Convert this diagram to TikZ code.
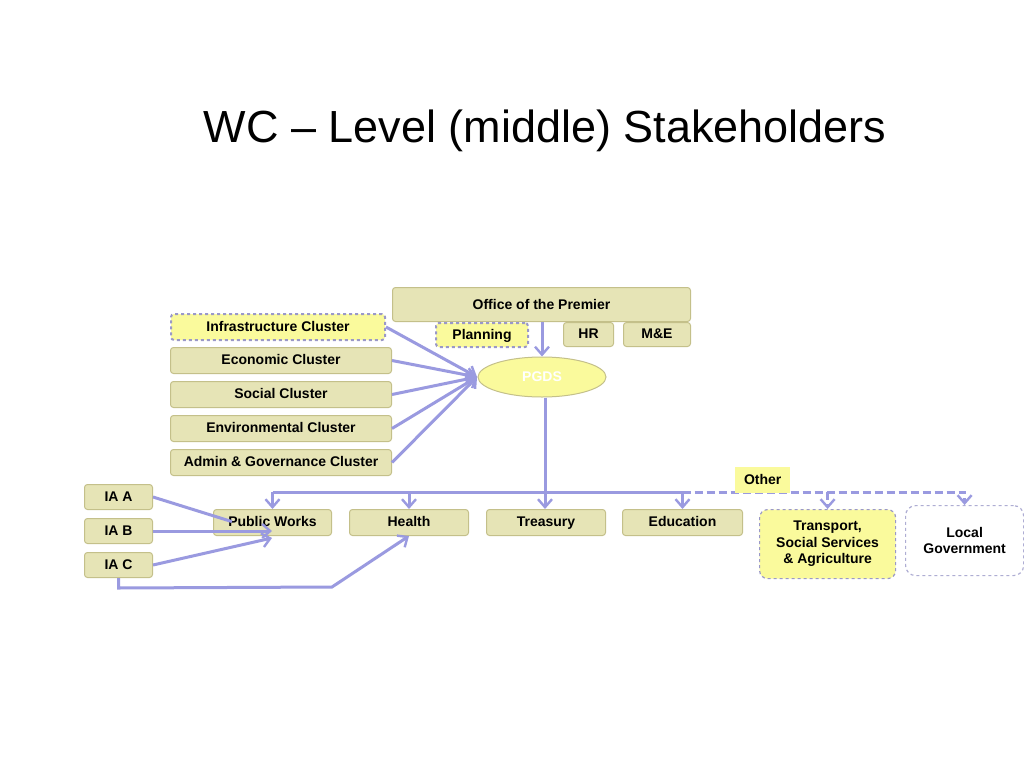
\documentclass[tikz,border=0pt]{standalone}
\usepackage{fontspec}
\setmainfont{Liberation Sans}
\usetikzlibrary{arrows.meta,shapes.geometric}
\definecolor{boxfill}{HTML}{E6E4B6}
\definecolor{boxline}{HTML}{C4C08A}
\definecolor{yel}{HTML}{FAFA9C}
\definecolor{arr}{HTML}{9A9AE0}
\definecolor{dashline}{HTML}{9A98C8}
\tikzset{
  lbl/.style={font=\bfseries\fontsize{14}{16.5}\selectfont},
  sl/.style={text height=10.8pt, text depth=2.2pt},
  tan/.style={draw=boxline, line width=1pt, fill=boxfill, rounded corners=3pt, lbl, sl, inner sep=0pt, anchor=north west},
  yelbox/.style={draw=dashline, dashed, line width=2pt, fill=yel, rounded corners=3pt, lbl, inner sep=0pt, anchor=north west},
  conn/.style={draw=arr, line width=3pt, -{Straight Barb[length=8pt,width=14pt,line width=2.4pt]}},
  plain/.style={draw=arr, line width=3pt},
  dconn/.style={draw=arr, line width=3pt, dash pattern=on 8pt off 4pt, -{Straight Barb[length=8pt,width=14pt,line width=2.4pt]}},
}
\begin{document}
\begin{tikzpicture}[x=1pt,y=-1pt]
\useasboundingbox[fill=white] (0,0) rectangle (1024,768);
\node[font=\fontsize{45}{52}\selectfont] (title) at (545,131) {WC – Level (middle) Stakeholders};

% top boxes
\node[tan, minimum width=298pt, minimum height=34pt] (op) at (392,287) {};
\node at ([yshift=-1pt]op.center) [lbl, sl, inner sep=0pt] (opt) {Office of the Premier};
\node[yelbox, sl, minimum width=214pt, minimum height=26pt] (infra) at (170,313) {Infrastructure Cluster};
\node[yelbox, sl, minimum width=92pt, minimum height=24pt] (plan) at (435,322) {Planning};
\node[tan, minimum width=50pt, minimum height=24pt] (hr) at (563,322) {HR};
\node[tan, minimum width=67pt, minimum height=24pt] (me) at (623,322) {M\&E};
\node[tan, minimum width=221pt, minimum height=26pt] (eco) at (170,347) {Economic Cluster};
\node[tan, minimum width=221pt, minimum height=26pt] (soc) at (170,381) {Social Cluster};
\node[tan, minimum width=221pt, minimum height=26pt] (env) at (170,415) {Environmental Cluster};
\node[tan, minimum width=221pt, minimum height=26pt] (adm) at (170,449) {Admin \& Governance Cluster};

\node[ellipse, draw=boxline, line width=1pt, fill=yel, minimum width=128pt, minimum height=40pt, inner sep=0pt, text=white, lbl] (pgds) at (542,377) {PGDS};

% departments
\node[tan, minimum width=118pt, minimum height=26pt] (pw) at (213,509) {Public Works};
\node[tan, minimum width=119pt, minimum height=26pt] (hl) at (349,509) {Health};
\node[tan, minimum width=119pt, minimum height=26pt] (tr) at (486,509) {Treasury};
\node[tan, minimum width=120pt, minimum height=26pt] (ed) at (622,509) {Education};
\node[yelbox, line width=1.2pt, rounded corners=8pt, minimum width=136pt, minimum height=69pt, align=center] (tsa) at (759,509) {Transport,\\Social Services\\\& Agriculture};
\node[draw=dashline!80, dashed, line width=1.2pt, fill=white, rounded corners=10pt, minimum width=118pt, minimum height=70pt, inner sep=0pt, anchor=north west, align=center, lbl] (lg) at (905,505) {Local\\Government};

\node[tan, minimum width=68pt, minimum height=25pt] (iaa) at (84,484) {IA A};
\node[tan, minimum width=68pt, minimum height=25pt] (iab) at (84,518) {IA B};
\node[tan, minimum width=68pt, minimum height=25pt] (iac) at (84,552) {IA C};

% coordinates
\coordinate (conv) at (477,377);
\coordinate (bus) at (545,492);
\coordinate (pwb) at (272,538);

% cluster arrows
\draw[conn] (infra.east) -- (conv);
\draw[conn] (eco.east) -- (conv);
\draw[conn] (soc.east) -- (conv);
\draw[conn] (env.east) -- (conv);
\draw[conn] (adm.east) -- (conv);
\draw[conn] (op.south -| pgds.north) -- (pgds.north);

% bus
\draw[conn] (pgds.south -| bus) -- (tr.north -| bus);
\draw[plain] (pw.north |- bus) -- (ed.north |- bus);
\draw[conn] (pw.north |- bus) -- (pw.north);
\draw[conn] (hl.north |- bus) -- (hl.north);
\draw[conn] (ed.north |- bus) -- (ed.north);
\draw[dconn] (ed.north |- bus) -- (lg.north |- bus) -- (lg.north);
\draw[dconn] (tsa.north |- bus) -- (tsa.north);
\node[fill=yel, minimum width=55pt, minimum height=26pt, inner sep=0pt, anchor=north west, lbl, sl] (other) at (735,467) {Other};

% IA arrows
\draw[plain, shorten >=-2pt] (iaa.east) -- (230,521);
\draw[conn] (iab.east) -- (iab.east -| pwb);
\draw[conn] (iac.east) -- (pwb);
\draw[conn] (iac.south) -- ++(0,10) -- (332,587) -- (hl.south);
\end{tikzpicture}
\end{document}
